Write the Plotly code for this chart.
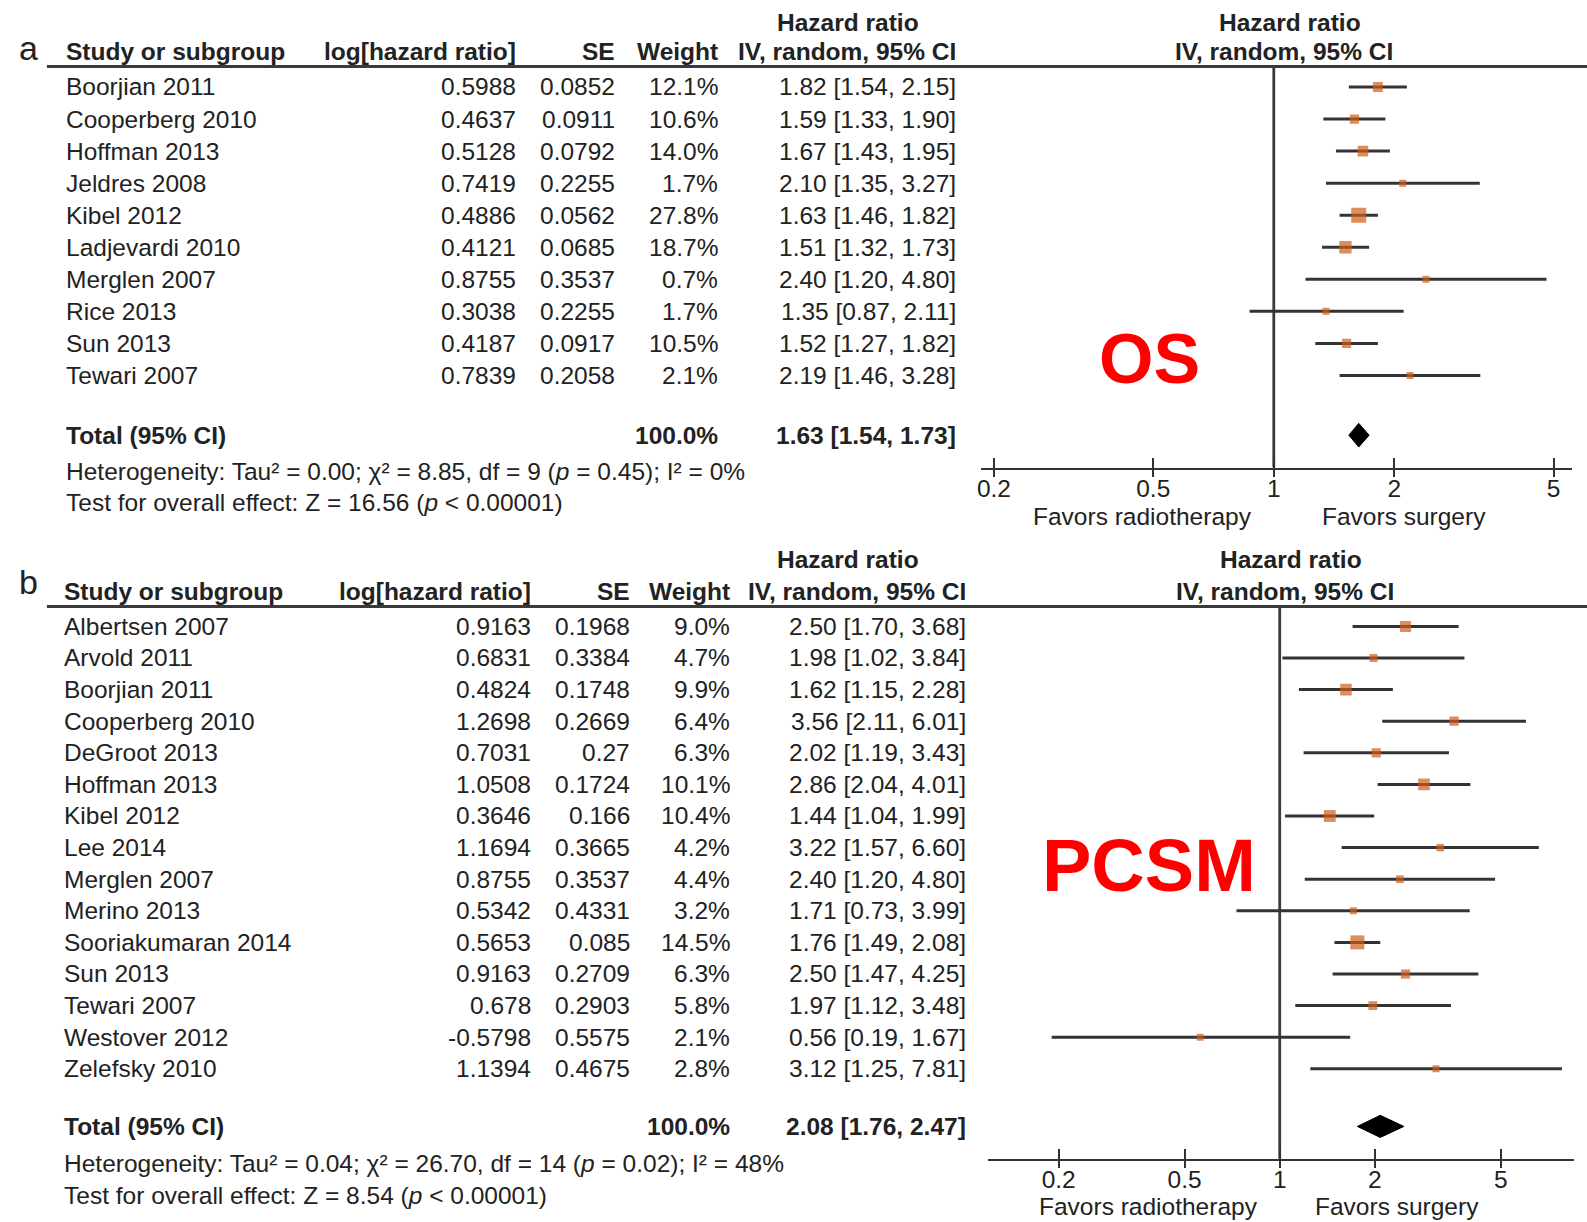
import plotly.graph_objects as go
import math

W, H = 1587, 1222

# ---------------- Data: panel a (overall survival) ----------------
os_study = ["Boorjian 2011", "Cooperberg 2010", "Hoffman 2013", "Jeldres 2008", "Kibel 2012",
            "Ladjevardi 2010", "Merglen 2007", "Rice 2013", "Sun 2013", "Tewari 2007"]
os_loghr = [0.5988, 0.4637, 0.5128, 0.7419, 0.4886, 0.4121, 0.8755, 0.3038, 0.4187, 0.7839]
os_se = [0.0852, 0.0911, 0.0792, 0.2255, 0.0562, 0.0685, 0.3537, 0.2255, 0.0917, 0.2058]
os_weight = [12.1, 10.6, 14.0, 1.7, 27.8, 18.7, 0.7, 1.7, 10.5, 2.1]
os_hr = [1.82, 1.59, 1.67, 2.10, 1.63, 1.51, 2.40, 1.35, 1.52, 2.19]
os_lo = [1.54, 1.33, 1.43, 1.35, 1.46, 1.32, 1.20, 0.87, 1.27, 1.46]
os_hi = [2.15, 1.90, 1.95, 3.27, 1.82, 1.73, 4.80, 2.11, 1.82, 3.28]
os_total = [1.63, 1.54, 1.73]
os_het = "Heterogeneity: Tau² = 0.00; χ² = 8.85, df = 9 (<i>p</i> = 0.45); I² = 0%"
os_test = "Test for overall effect: Z = 16.56 (<i>p</i> &lt; 0.00001)"

# ---------------- Data: panel b (prostate cancer-specific mortality) ----------------
pc_study = ["Albertsen 2007", "Arvold 2011", "Boorjian 2011", "Cooperberg 2010", "DeGroot 2013",
            "Hoffman 2013", "Kibel 2012", "Lee 2014", "Merglen 2007", "Merino 2013",
            "Sooriakumaran 2014", "Sun 2013", "Tewari 2007", "Westover 2012", "Zelefsky 2010"]
pc_loghr = [0.9163, 0.6831, 0.4824, 1.2698, 0.7031, 1.0508, 0.3646, 1.1694, 0.8755, 0.5342,
            0.5653, 0.9163, 0.678, -0.5798, 1.1394]
pc_se = [0.1968, 0.3384, 0.1748, 0.2669, 0.27, 0.1724, 0.166, 0.3665, 0.3537, 0.4331,
         0.085, 0.2709, 0.2903, 0.5575, 0.4675]
pc_weight = [9.0, 4.7, 9.9, 6.4, 6.3, 10.1, 10.4, 4.2, 4.4, 3.2, 14.5, 6.3, 5.8, 2.1, 2.8]
pc_hr = [2.50, 1.98, 1.62, 3.56, 2.02, 2.86, 1.44, 3.22, 2.40, 1.71, 1.76, 2.50, 1.97, 0.56, 3.12]
pc_lo = [1.70, 1.02, 1.15, 2.11, 1.19, 2.04, 1.04, 1.57, 1.20, 0.73, 1.49, 1.47, 1.12, 0.19, 1.25]
pc_hi = [3.68, 3.84, 2.28, 6.01, 3.43, 4.01, 1.99, 6.60, 4.80, 3.99, 2.08, 4.25, 3.48, 1.67, 7.81]
pc_total = [2.08, 1.76, 2.47]
pc_het = "Heterogeneity: Tau² = 0.04; χ² = 26.70, df = 14 (<i>p</i> = 0.02); I² = 48%"
pc_test = "Test for overall effect: Z = 8.54 (<i>p</i> &lt; 0.00001)"

tick_vals = [0.2, 0.5, 1, 2, 5]
tick_text = ["0.2", "0.5", "1", "2", "5"]
col_headers = ["Study or subgroup", "log[hazard ratio]", "SE", "Weight", "IV, random, 95% CI"]

FONT = "Liberation Sans, Arial, sans-serif"
FS = 24.5
TXT = "#222222"
ORANGE = "#D05E1A"
LINE = "#333333"


def pxx(x):
    return x / W


def pxy(y):
    return 1 - y / H


fig = go.Figure()
annotations = []
shapes = []


def text(x, y, s, anchor="left", size=FS, bold=False, yref="paper", color=TXT):
    annotations.append(dict(x=x, y=y, xref="paper", yref=yref,
                            text=f"<b>{s}</b>" if bold else s,
                            showarrow=False, xanchor=anchor, yanchor="middle",
                            font=dict(family=FONT, size=size, color=color)))


def add_panel(k, letter, big, study, loghr, se, weight, hr, lo, hi, total, het, test, g):
    xa = "x" if k == 1 else f"x{k}"
    ya = "y" if k == 1 else f"y{k}"
    n = len(study)
    dy = g["dy"]
    idx = lambda ypx: (ypx - g["row0"]) / dy
    top_i = idx(g["line_y"])
    axis_i = idx(g["axis_y"])
    total_i = idx(g["total_y"])

    # letter and headers
    text(pxx(25), pxy(g["letter_y"]), letter, size=34, anchor="center")
    text(pxx(g["ci_hdr_x"]), pxy(g["hdr1_y"]), "Hazard ratio", bold=True, anchor="center")
    text(pxx(g["name_x"]), pxy(g["hdr2_y"]), col_headers[0], bold=True)
    text(pxx(g["log_x"]), pxy(g["hdr2_y"]), col_headers[1], bold=True, anchor="right")
    text(pxx(g["se_x"]), pxy(g["hdr2_y"]), col_headers[2], bold=True, anchor="right")
    text(pxx(g["w_x"]), pxy(g["hdr2_y"]), col_headers[3], bold=True, anchor="right")
    text(pxx(g["ci_x"]), pxy(g["hdr2_y"]), col_headers[4], bold=True, anchor="right")
    text(pxx(g["rhdr_x"] + 6), pxy(g["hdr1_y"]), "Hazard ratio", bold=True, anchor="center")
    text(pxx(g["rhdr_x"]), pxy(g["hdr2_y"]), col_headers[4], bold=True, anchor="center")
    shapes.append(dict(type="line", xref="paper", yref="paper",
                       x0=pxx(43), x1=1, y0=pxy(g["line_y"]), y1=pxy(g["line_y"]),
                       line=dict(color="#3a3a3a", width=3)))

    # study rows
    for i in range(n):
        text(pxx(g["name_x"]), i, study[i], yref=ya)
        text(pxx(g["log_x"]), i, str(loghr[i]), anchor="right", yref=ya)
        text(pxx(g["se_x"]), i, str(se[i]), anchor="right", yref=ya)
        text(pxx(g["w_x"]), i, f"{weight[i]:.1f}%", anchor="right", yref=ya)
        text(pxx(g["ci_x"]), i, f"{hr[i]:.2f} [{lo[i]:.2f}, {hi[i]:.2f}]", anchor="right", yref=ya)

    # total row
    text(pxx(g["name_x"]), total_i, "Total (95% CI)", bold=True, yref=ya)
    text(pxx(g["w_x"]), total_i, "100.0%", bold=True, anchor="right", yref=ya)
    text(pxx(g["ci_x"]), total_i, f"{total[0]:.2f} [{total[1]:.2f}, {total[2]:.2f}]",
         bold=True, anchor="right", yref=ya)
    text(pxx(g["name_x"]), pxy(g["het_y"]), het)
    text(pxx(g["name_x"]), pxy(g["test_y"]), test)

    # favors labels and big label
    text(pxx(g["fav_l"]), pxy(g["fav_y"]), "Favors radiotherapy", anchor="center")
    text(pxx(g["fav_r"]), pxy(g["fav_y"]), "Favors surgery", anchor="center")
    text(pxx(g["big_x"]), pxy(g["big_y"]), big, size=g["big_size"], bold=True,
         anchor="center", color="#FF0000")

    # reference line at HR = 1
    fig.add_trace(go.Scatter(x=[1, 1], y=[top_i, axis_i], mode="lines", xaxis=xa, yaxis=ya,
                             line=dict(color="#3c3c3c", width=2.8), cliponaxis=False,
                             showlegend=False, hoverinfo="skip"))
    # CI lines
    cx, cy = [], []
    for i in range(n):
        cx += [lo[i], hi[i], None]
        cy += [i, i, None]
    fig.add_trace(go.Scatter(x=cx, y=cy, mode="lines", xaxis=xa, yaxis=ya,
                             line=dict(color=LINE, width=3), showlegend=False,
                             hoverinfo="skip"))
    # point estimates (marker area ~ weight, scaled to the largest study of the panel)
    wmax = max(weight)
    sizes = [max(7.0, g["smax"] * math.sqrt(w / wmax)) for w in weight]
    fig.add_trace(go.Scatter(x=hr, y=list(range(n)), mode="markers", xaxis=xa, yaxis=ya,
                             marker=dict(symbol="square", size=sizes, color=ORANGE,
                                         line=dict(width=0)),
                             showlegend=False))
    # pooled diamond
    h = g["dia_h"]
    fig.add_trace(go.Scatter(x=[total[1], total[0], total[2], total[0], total[1]],
                             y=[total_i, total_i - h, total_i, total_i + h, total_i],
                             mode="lines", fill="toself", fillcolor="black",
                             line=dict(color="black", width=1), xaxis=xa, yaxis=ya,
                             showlegend=False))

    axis_common = dict(type="log", showgrid=False, zeroline=False, showline=True,
                       linecolor=LINE, linewidth=2.5, ticks="outside", ticklen=7,
                       tickwidth=2, tickcolor=LINE, tickvals=tick_vals, ticktext=tick_text,
                       tickfont=dict(family=FONT, size=FS, color=TXT),
                       ticklabelstandoff=-10,
                       minor=dict(ticks="inside", tickvals=tick_vals, ticklen=10,
                                  tickwidth=2, tickcolor=LINE),
                       fixedrange=True)
    fig.update_layout({
        ("xaxis" if k == 1 else f"xaxis{k}"): dict(
            axis_common, domain=[pxx(g["px0"]), pxx(g["px1"])], range=g["xrange"],
            anchor=ya),
        ("yaxis" if k == 1 else f"yaxis{k}"): dict(
            domain=[pxy(g["axis_y"]), pxy(g["line_y"])], range=[axis_i, top_i],
            visible=False, showgrid=False, zeroline=False, anchor=xa, fixedrange=True),
    })


geom_a = dict(letter_y=48.0, hdr1_y=22.3, hdr2_y=51.5, line_y=66.5, row0=87.0, dy=32.05,
              total_y=435.2, axis_y=467.6, het_y=471.6, test_y=503.0, fav_y=516.5,
              name_x=60.0, log_x=515.0, se_x=615.0, w_x=717.5, ci_x=956.4, ci_hdr_x=846.0,
              rhdr_x=1283.0, px0=979.6, px1=1571.6, xrange=[-0.731, 0.744],
              fav_l=1141.5, fav_r=1404.0, big_x=1148.6, big_y=359.0, big_size=70,
              dia_h=0.37, smax=15.0)
geom_b = dict(letter_y=582.0, hdr1_y=559.6, hdr2_y=591.0, line_y=606.5, row0=626.4, dy=31.6,
              total_y=1126.4, axis_y=1158.7, het_y=1163.8, test_y=1195.2, fav_y=1206.0,
              name_x=58.0, log_x=530.0, se_x=629.5, w_x=729.7, ci_x=966.5, ci_hdr_x=846.0,
              rhdr_x=1284.0, px0=986.7, px1=1573.7, xrange=[-0.922, 0.930],
              fav_l=1147.6, fav_r=1396.6, big_x=1147.6, big_y=865.0, big_size=74,
              dia_h=0.35, smax=14.0)

add_panel(1, "a", "OS", os_study, os_loghr, os_se, os_weight, os_hr, os_lo, os_hi,
          os_total, os_het, os_test, geom_a)
add_panel(2, "b", "PCSM", pc_study, pc_loghr, pc_se, pc_weight, pc_hr, pc_lo, pc_hi,
          pc_total, pc_het, pc_test, geom_b)

fig.update_layout(width=W, height=H, margin=dict(l=0, r=0, t=0, b=0),
                  paper_bgcolor="white", plot_bgcolor="rgba(0,0,0,0)",
                  annotations=annotations, shapes=shapes, showlegend=False,
                  font=dict(family=FONT, color=TXT))

# remove the default 8px page margin so the figure fills the 1587x1222 window exactly
fig.write_html("out.html",
               config={"displayModeBar": False, "staticPlot": True},
               post_script="document.body.style.margin='0px';"
                           "document.body.style.overflow='hidden';")
